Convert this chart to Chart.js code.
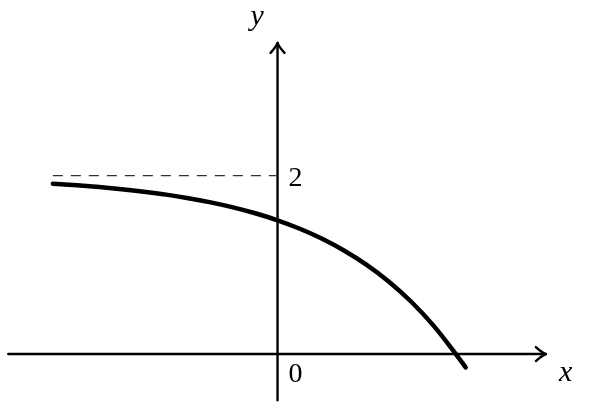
<!DOCTYPE html>
<html>
<head>
<meta charset="utf-8">
<script src="https://cdn.jsdelivr.net/npm/chart.js@4.4.1/dist/chart.umd.min.js"></script>
<style>
  html, body { margin: 0; padding: 0; background: #fff; }
  #plot { display: block; }
</style>
</head>
<body>
<canvas id="plot" width="600" height="419"></canvas>
<script>
// points
const curveX = [-2.52, -2.25, -2.0, -1.75, -1.5, -1.25, -1.0, -0.75, -0.5, -0.25, 0.0,
                0.25, 0.5, 0.75, 1.0, 1.25, 1.5, 1.75, 2.0, 2.11];
const curveY = [1.910, 1.893, 1.873, 1.849, 1.821, 1.788, 1.748, 1.701, 1.645, 1.579, 1.500,
                1.405, 1.293, 1.159, 1.000, 0.811, 0.586, 0.318, -0.001, -0.150];

// dashed asymptote y = 2
const asymX = [-2.52, 0];
const asymY = [2, 2];

// tick labels on the y axis side
const tickLabels = [
    { text: '2', x: 0, y: 2 },
    { text: '0', x: 0, y: 0 }
];

// axis extents (data units)
const xAxisRange = [-3.02, 3.01];
const yAxisRange = [-0.52, 3.49];

function toPoints(xs, ys) {
    return xs.map((x, i) => ({ x: x, y: ys[i] }));
}

// disegna assi, frecce ed etichette
const axesPlugin = {
    id: 'axes',
    beforeDatasetsDraw(chart) {
        const ctx = chart.ctx;
        const sx = chart.scales.x, sy = chart.scales.y;
        const x0 = sx.getPixelForValue(0), y0 = sy.getPixelForValue(0);
        const xl = sx.getPixelForValue(xAxisRange[0]), xr = sx.getPixelForValue(xAxisRange[1]);
        const yb = sy.getPixelForValue(yAxisRange[0]), yt = sy.getPixelForValue(yAxisRange[1]);
        ctx.save();
        ctx.strokeStyle = '#000';
        ctx.lineWidth = 2.4;
        ctx.lineCap = 'round';
        ctx.lineJoin = 'round';
        ctx.beginPath();
        ctx.moveTo(xl, y0); ctx.lineTo(xr, y0);
        ctx.moveTo(x0, yb); ctx.lineTo(x0, yt);
        ctx.stroke();
        // arrow heads
        ctx.beginPath();
        ctx.moveTo(xr - 10, y0 - 7); ctx.quadraticCurveTo(xr - 4, y0 - 1.5, xr, y0);
        ctx.quadraticCurveTo(xr - 4, y0 + 1.5, xr - 10, y0 + 7);
        ctx.moveTo(x0 - 7, yt + 10); ctx.quadraticCurveTo(x0 - 1.5, yt + 4, x0, yt);
        ctx.quadraticCurveTo(x0 + 1.5, yt + 4, x0 + 7, yt + 10);
        ctx.stroke();
        // labels
        ctx.fillStyle = '#000';
        ctx.textBaseline = 'alphabetic';
        ctx.textAlign = 'left';
        ctx.font = '28px "Liberation Serif", serif';
        tickLabels.forEach(t => {
            const px = sx.getPixelForValue(t.x) + 11;
            const py = sy.getPixelForValue(t.y) + (t.y === 0 ? 28 : 10);
            ctx.fillText(t.text, px, py);
        });
        ctx.font = 'italic 30px "Liberation Serif", serif';
        ctx.fillText('x', xr + 13, y0 + 27);
        ctx.fillText('y', x0 - 27, yt - 18);
        ctx.restore();
    }
};

new Chart(document.getElementById('plot'), {
    type: 'scatter',
    data: {
        datasets: [
            {
                data: toPoints(asymX, asymY),
                showLine: true,
                borderColor: '#333',
                borderWidth: 1.3,
                borderDash: [10, 8],
                pointRadius: 0,
                clip: false
            },
            {
                data: toPoints(curveX, curveY),
                showLine: true,
                borderColor: '#000',
                borderWidth: 4.5,
                borderCapStyle: 'round',
                borderJoinStyle: 'round',
                cubicInterpolationMode: 'monotone',
                pointRadius: 0,
                clip: false
            }
        ]
    },
    options: {
        responsive: false,
        animation: false,
        devicePixelRatio: 1,
        layout: { padding: 0 },
        plugins: { legend: { display: false }, tooltip: { enabled: false } },
        scales: {
            x: { type: 'linear', display: false, min: -3.113, max: 3.617 },
            y: { type: 'linear', display: false, min: -0.729, max: 3.971 }
        }
    },
    plugins: [axesPlugin]
});
</script>
</body>
</html>
